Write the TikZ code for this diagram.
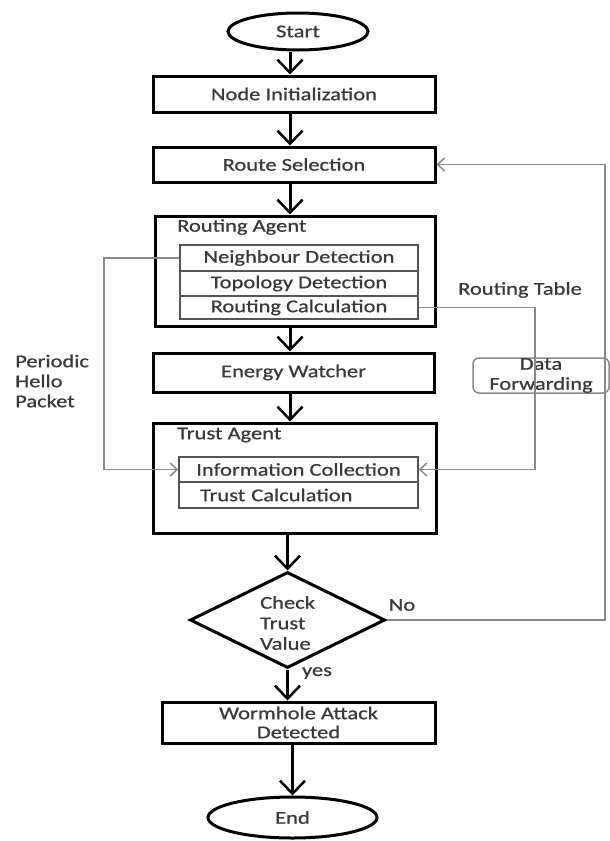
\documentclass[tikz,border=0pt]{standalone}
\usepackage{fontspec}
\setmainfont{Carlito}[FakeStretch=1.25,FakeBold=0.8]
\usetikzlibrary{arrows.meta,shapes.geometric}
\definecolor{txt}{HTML}{3A3A3A}
\definecolor{gry}{HTML}{8A8A8A}
\definecolor{rowc}{HTML}{555555}
\newcommand\myfs{\fontsize{18}{20.5}\selectfont}
\tikzset{
  box/.style={draw=black, line width=3, minimum width=282, minimum height=36, inner sep=0, align=center},
  oval/.style={ellipse, draw=black, line width=3, inner sep=0},
  row/.style={draw=rowc, line width=1.5, minimum width=238, inner sep=0},
  dia/.style={diamond, draw=black, line width=3, inner sep=0},
  plain/.style={inner sep=0},
  arr/.style={line width=3, -{Straight Barb[length=13pt,width=25pt,line width=2.5pt]}},
  garr/.style={draw=gry, line width=1.5, -{Straight Barb[length=7pt,width=13pt,line width=1.5pt]}}
}
\begin{document}
\begin{tikzpicture}[x=1pt,y=-1pt, font=\myfs, text=txt]
\useasboundingbox (0,0) rectangle (610,841);
\fill[white] (0,0) rectangle (610,841);
\coordinate (col) at (290,0);
\coordinate (hl) at (104,0);
\coordinate (rl) at (535,0);
\coordinate (fr) at (605,0);

\node[oval, minimum width=140, minimum height=37] (start) at (298,31.5) {Start};
\node[box, minimum width=282, minimum height=36] (init) at (294,94) {Node Initialization};
\node[box, minimum width=282, minimum height=35] (route) at (294,164.5) {Route Selection};

\node[box, minimum width=280, minimum height=110] (ra) at (295,271) {};
\node[plain, anchor=west] (ratitle) at (177,227) {Routing Agent};
\node[row, minimum height=26] (nd) at (299,258) {Neighbour Detection};
\node[row, minimum height=25] (td) at (299,283.5) {Topology Detection};
\node[row, minimum height=23] (rc) at (299,307.5) {Routing Calculation};

\node[box, minimum width=281, minimum height=39] (ew) at (293.5,372.5) {Energy Watcher};

\node[box, minimum width=283, minimum height=110] (ta) at (294.5,478) {};
\node[plain, anchor=west] (tatitle) at (177,435) {Trust Agent};
\node[row, minimum width=239, minimum height=25] (ic) at (298.5,469.5) {Information Collection};
\node[row, minimum width=239, minimum height=26, inner xsep=21, text width=197, align=left] (tc) at (298.5,495) {Trust Calculation};

\node[dia, minimum width=195, minimum height=96] (chk) at (287.5,620) {};
\node[plain, anchor=west, align=left] (chktxt) at (260,623) {Check\\Trust\\Value};

\node[box, minimum width=273, minimum height=41, font=\fontsize{18}{19}\selectfont] (wa) at (298.5,722.5) {Wormhole Attack\\Detected};
\node[oval, minimum width=169, minimum height=41] (end) at (292.5,817.5) {End};

\node[draw=gry, line width=1.5, rounded corners=6, minimum width=136, minimum height=35, align=center, inner sep=0, font=\fontsize{18}{20}\selectfont] (df) at (541,375.5) {Data\\Forwarding};

\node[plain] (rt) at (520,290) {Routing Table};
\node[plain, anchor=west, align=left, font=\fontsize{18}{20}\selectfont] (php) at (15,381) {Periodic\\Hello\\Packet};
\node[plain] (no) at (402,605) {No};
\node[plain] (yes) at (317,673) {yes};

\draw[arr] (start.south -| col) -- (init.north -| col);
\draw[arr] (init.south -| col) -- (route.north -| col);
\draw[arr] (route.south -| col) -- (ra.north -| col);
\draw[arr] (ra.south -| col) -- (ew.north -| col);
\draw[arr] (ew.south -| col) -- (ta.north -| col);
\draw[arr] (ta.south -| chk.north) -- (chk.north);
\draw[arr] (chk.south) -- (wa.north -| chk.south);
\draw[arr] (wa.south -| end.north) -- (end.north);

\draw[garr] (nd.west) -- (nd.west -| hl) |- (ic.west);
\draw[garr] (rc.east) -- (rc.east -| rl) |- (ic.east);
\draw[garr] (chk.east) -- (chk.east -| fr) |- (route.east);
\end{tikzpicture}
\end{document}
